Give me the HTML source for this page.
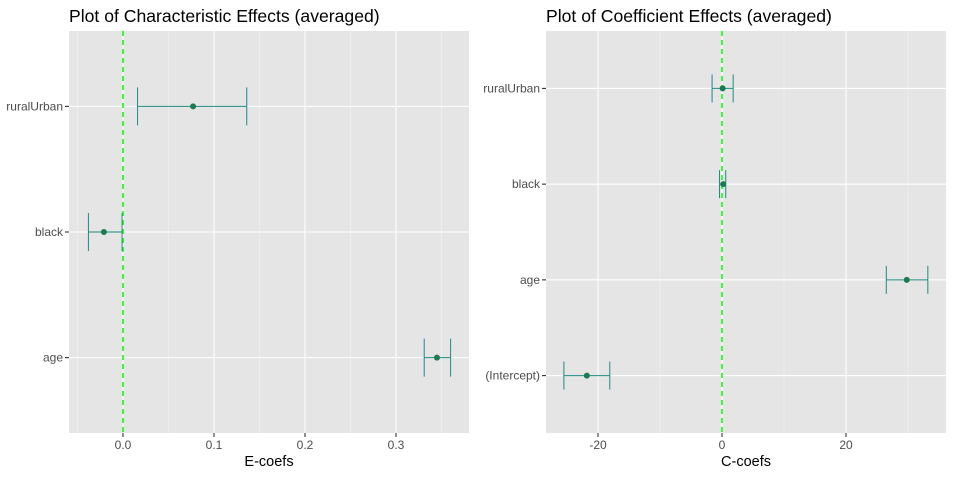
<!DOCTYPE html>
<html><head><meta charset="utf-8"><style>
body{margin:0;background:#fff;font-family:"Liberation Sans",Arial,sans-serif}
</style></head><body>
<svg width="953" height="476" xmlns="http://www.w3.org/2000/svg" font-family="Liberation Sans, Arial, sans-serif" id="svg"></svg>
<script>
const leftCats=["age","black","ruralUrban"];
const leftEst=[0.345,-0.021,0.077];
const leftLo=[0.331,-0.038,0.016];
const leftHi=[0.360,-0.001,0.136];
const leftTicks=[0.0,0.1,0.2,0.3];
const leftTickLabels=["0.0","0.1","0.2","0.3"];
const leftMinor=[-0.05,0.05,0.15,0.25,0.35];

const rightCats=["(Intercept)","age","black","ruralUrban"];
const rightEst=[-21.8,29.8,0.2,0.1];
const rightLo=[-25.5,26.5,-0.4,-1.6];
const rightHi=[-18.1,33.2,0.6,1.8];
const rightTicks=[-20,0,20];
const rightTickLabels=["-20","0","20"];
const rightMinor=[-10,10,30];

const NS="http://www.w3.org/2000/svg";
const svg=document.getElementById('svg');
function el(tag,attrs,parent){const e=document.createElementNS(NS,tag);for(const k in attrs)e.setAttribute(k,attrs[k]);(parent||svg).appendChild(e);return e;}

function panel(cfg){
  const g=el('g',{});
  
  
  const {x0,x1,y0,y1}=cfg;
  const sx=v=>cfg.px0+(v-cfg.v0)*cfg.scale;
  const n=cfg.cats.length;
  const step=(y1-y0)/(n+0.2);
  const sy=i=>y1-(0.6+i)*step;
  const bg=el('rect',{x:x0,y:y0,width:x1-x0,height:y1-y0,fill:'#e5e5e5'},g);
  
  
  cfg.minor.forEach(v=>{const l=el('line',{x1:sx(v),x2:sx(v),y1:y0,y2:y1,stroke:'#f2f2f2','stroke-width':0.6},g);
    });
  cfg.ticks.forEach((v,i)=>{
    const l=el('line',{x1:sx(v),x2:sx(v),y1:y0,y2:y1,stroke:'#fff','stroke-width':1.1},g);
    
    el('line',{x1:sx(v),x2:sx(v),y1:y1,y2:y1+4,stroke:'#333','stroke-width':1.1},g);
    const t=el('text',{x:sx(v),y:y1+16,'text-anchor':'middle','font-size':12,fill:'#4d4d4d'},g);
    t.textContent=cfg.tickLabels[i];
    
  });
  cfg.cats.forEach((c,i)=>{
    const y=sy(i);
    const l=el('line',{x1:x0,x2:x1,y1:y,y2:y,stroke:'#fff','stroke-width':1.1},g);
    
    el('line',{x1:x0-4,x2:x0,y1:y,y2:y,stroke:'#333','stroke-width':1.1},g);
    const t=el('text',{x:x0-6,y:y+4,'text-anchor':'end','font-size':12,fill:'#4d4d4d'},g);
    t.textContent=c;
    
  });
  const z=el('line',{x1:sx(0),x2:sx(0),y1:y0,y2:y1,stroke:'#00ff00','stroke-width':1.5,'stroke-dasharray':'5,4'},g);
  
  cfg.cats.forEach((c,i)=>{
    const y=sy(i),h=cfg.capH;
    const eb=el('g',{stroke:cfg.barColor,'stroke-width':1},g);
    
    el('line',{x1:sx(cfg.lo[i]),x2:sx(cfg.hi[i]),y1:y,y2:y},eb);
    el('line',{x1:sx(cfg.lo[i]),x2:sx(cfg.lo[i]),y1:y-h,y2:y+h},eb);
    el('line',{x1:sx(cfg.hi[i]),x2:sx(cfg.hi[i]),y1:y-h,y2:y+h},eb);
    const p=el('circle',{cx:sx(cfg.est[i]),cy:y,r:3,fill:'#1b7a4f'},g);
    
  });
  const tt=el('text',{x:x0,y:22,'font-size':17.6,fill:'#000'},g);
  tt.textContent=cfg.title;
  
  const xt=el('text',{x:(x0+x1)/2,y:466,'text-anchor':'middle','font-size':14.5,fill:'#000'},g);
  xt.textContent=cfg.xlabel;
  
}
panel({name:'characteristic-effects-panel',x0:69,x1:469,y0:31,y1:433,px0:123,v0:0,scale:910,
  cats:leftCats,est:leftEst,lo:leftLo,hi:leftHi,ticks:leftTicks,tickLabels:leftTickLabels,minor:leftMinor,
  capH:19,barColor:'#1f8a80',title:'Plot of Characteristic Effects (averaged)',xlabel:'E-coefs'});
panel({name:'coefficient-effects-panel',x0:546,x1:946,y0:31,y1:433,px0:722,v0:0,scale:6.2,
  cats:rightCats,est:rightEst,lo:rightLo,hi:rightHi,ticks:rightTicks,tickLabels:rightTickLabels,minor:rightMinor,
  capH:14,barColor:'#1f8a80',title:'Plot of Coefficient Effects (averaged)',xlabel:'C-coefs'});
</script>
</body></html>
